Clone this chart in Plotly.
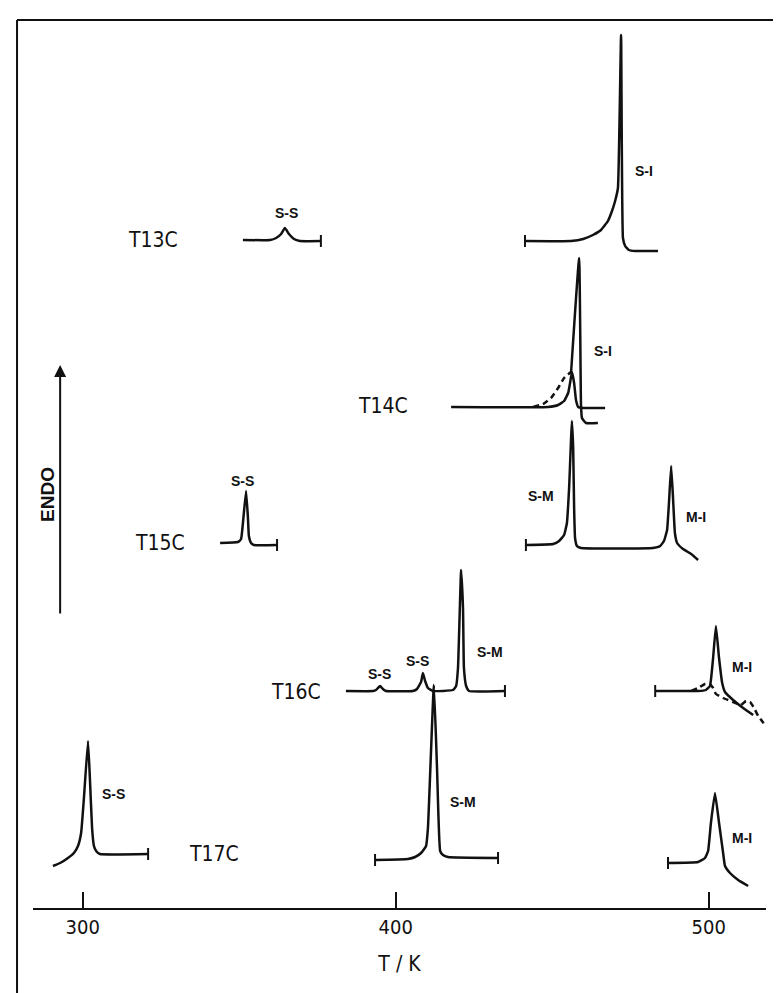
import plotly.graph_objects as go

# ---------------- data: temperature (K) and DSC signal (arb. units, offset per sample) -------------
# T13C
t13_ss_T = [351.2, 359.9, 361.8, 363.4, 364.6, 365.9, 367.5, 369.4, 376.1]
t13_ss_S = [668, 668, 670, 674, 680, 674, 669, 667, 667]
t13_si_T = [441.3, 456.0, 459.9, 463.0, 465.6, 467.8, 469.1, 470.1, 471.0, 472.0, 472.6, 473.3, 474.5, 476.5, 483.8]
t13_si_S = [667, 667, 669, 673, 678, 687, 697, 707, 720, 873, 670, 662, 658, 657, 657]
# T14C
t14_a_T = [417.7, 448.7, 451.9, 453.8, 455.1, 455.7, 456.3, 457.0, 457.6, 458.3, 459.9, 466.9]
t14_a_S = [501, 501, 503, 507, 515, 525, 536, 525, 508, 501, 500, 500]
t14_b_T = [456.0, 458.6, 459.2, 459.5, 460.8, 464.6]
t14_b_S = [534, 650, 503, 490, 485, 485]
t14_c_T = [443.9, 447.1, 449.6, 451.9, 453.8, 456.0]
t14_c_S = [501, 504, 510, 520, 530, 536]
# T15C
t15_ss_T = [343.9, 349.6, 350.6, 351.2, 352.2, 352.8, 353.1, 353.8, 354.7, 362.1]
t15_ss_S = [365, 366, 369, 385, 417, 390, 372, 365, 363, 363]
t15_sm_T = [441.6, 450.3, 452.2, 453.8, 454.7, 455.4, 456.3, 456.7, 457.0, 457.3, 457.9, 459.2,
            482.2, 484.5, 485.7, 486.7, 487.3, 488.0, 488.6, 489.2, 489.9, 491.8, 494.4, 496.6]
t15_sm_S = [363, 364, 367, 373, 385, 420, 487, 460, 400, 370, 362, 360,
            360, 362, 367, 378, 405, 442, 410, 375, 365, 359, 354, 348]
# T16C
t16_ss_T = [384.1, 392.8, 393.7, 395.0, 395.9, 396.9, 405.5, 406.8, 408.1, 408.7, 409.4, 410.3, 411.9,
            418.3, 419.3, 419.9, 420.9, 421.5, 421.8, 422.5, 423.4, 434.9]
t16_ss_S = [217, 217, 218, 222, 219, 217, 217, 219, 226, 235, 227, 220, 217,
            218, 222, 240, 338, 300, 240, 222, 217, 217]
t16_mi_T = [482.9, 496.6, 499.1, 500.4, 501.4, 502.3, 503.3, 504.3, 505.2, 507.8, 511.0, 514.2]
t16_mi_S = [217, 217, 218, 222, 250, 282, 250, 225, 216, 208, 200, 193]
t16_mi2_T = [494.4, 496.6, 498.8, 500.4, 501.4, 502.3, 504.6, 507.8, 510.3, 511.9, 513.2, 514.5, 515.8, 518.0]
t16_mi2_S = [217, 220, 224, 224, 220, 214, 210, 206, 203, 207, 206, 200, 192, 183]
# T17C
t17_ss_T = [290.5, 292.8, 295.3, 297.2, 298.5, 299.5, 300.4, 301.7, 302.3, 303.0, 303.6, 304.3, 305.5, 320.9]
t17_ss_S = [42, 45, 50, 55, 62, 75, 110, 167, 130, 80, 62, 57, 54, 54]
t17_sm_T = [393.4, 403.9, 406.2, 408.1, 409.7, 410.3, 412.2, 413.2, 414.2, 415.1, 416.7, 432.7]
t17_sm_S = [48, 49, 51, 55, 62, 80, 223, 140, 57, 53, 51, 50]
t17_mi_T = [487.0, 496.6, 498.8, 499.8, 500.7, 502.0, 503.3, 504.6, 505.2, 506.8, 509.4, 512.6]
t17_mi_S = [45, 46, 50, 57, 85, 115, 85, 55, 42, 35, 28, 22]

# sample names and label anchors
sample_names = ["T13C", "T14C", "T15C", "T16C", "T17C"]
sample_T = [322.5, 396.0, 324.7, 368.2, 342.0]
sample_S = [668, 502, 365, 216, 54]

# transition labels
trans_text = ["S-S", "S-I", "S-I", "S-S", "S-M", "M-I", "S-S", "S-S", "S-M", "M-I", "S-S", "S-M", "M-I"]
trans_T = [365.0, 479.3, 466.2, 351.2, 446.4, 496.0, 394.7, 407.1, 430.1, 510.7, 309.7, 421.5, 510.7]
trans_S = [695, 737, 557, 427, 412, 391, 234, 247, 256, 241, 114, 106, 70]

tick_vals = [300, 400, 500]

# ---------------- figure ----------------
fig = go.Figure()

INK = "#111111"

def add_curve(T, S, dash="solid"):
    fig.add_trace(go.Scatter(x=T, y=S, mode="lines",
                             line=dict(color=INK, width=2.5, dash=dash, shape="spline", smoothing=0.35),
                             hoverinfo="skip", showlegend=False))

curves = [
    (t13_ss_T, t13_ss_S, "solid"), (t13_si_T, t13_si_S, "solid"),
    (t14_a_T, t14_a_S, "solid"), (t14_b_T, t14_b_S, "solid"), (t14_c_T, t14_c_S, "6px,4px"),
    (t15_ss_T, t15_ss_S, "solid"), (t15_sm_T, t15_sm_S, "solid"),
    (t16_ss_T, t16_ss_S, "solid"), (t16_mi_T, t16_mi_S, "solid"), (t16_mi2_T, t16_mi2_S, "6px,4px"),
    (t17_ss_T, t17_ss_S, "solid"), (t17_sm_T, t17_sm_S, "solid"), (t17_mi_T, t17_mi_S, "solid"),
]
for T, S, d in curves:
    add_curve(T, S, d)

# small end marks on the recorder traces (derived from trace end points)
end_marks = [
    (t13_ss_T, t13_ss_S, -1), (t13_si_T, t13_si_S, 0),
    (t15_ss_T, t15_ss_S, -1), (t15_sm_T, t15_sm_S, 0),
    (t16_ss_T, t16_ss_S, -1), (t16_mi_T, t16_mi_S, 0),
    (t17_ss_T, t17_ss_S, -1), (t17_sm_T, t17_sm_S, 0), (t17_sm_T, t17_sm_S, -1),
    (t17_mi_T, t17_mi_S, 0),
]
mx, my = [], []
for T, S, i in end_marks:
    mx += [T[i], T[i], None]
    my += [S[i] - 6, S[i] + 6, None]
fig.add_trace(go.Scatter(x=mx, y=my, mode="lines", line=dict(color=INK, width=2),
                         hoverinfo="skip", showlegend=False))

LABEL_FONT = "Liberation Sans Narrow, DejaVu Sans Condensed, Liberation Sans, Arial, sans-serif"
BOLD_FONT = "Liberation Sans, Arial, sans-serif"

for name, x, y in zip(sample_names, sample_T, sample_S):
    fig.add_annotation(x=x, y=y, text=name, showarrow=False,
                       font=dict(family=LABEL_FONT, size=21, color=INK))
for name, x, y in zip(trans_text, trans_T, trans_S):
    fig.add_annotation(x=x, y=y, text="<b>" + name + "</b>", showarrow=False,
                       font=dict(family=BOLD_FONT, size=14, color=INK))

# ENDO arrow and label
fig.add_annotation(x=292.8, y=543, ax=292.8, ay=293, xref="x", yref="y", axref="x", ayref="y",
                   text="", showarrow=True, arrowhead=2, arrowsize=1.2, arrowwidth=2, arrowcolor=INK)
fig.add_annotation(x=288.6, y=414, text="<b>ENDO</b>", showarrow=False, textangle=-90,
                   font=dict(family=BOLD_FONT, size=19, color=INK))

# outer frame (left and top border of the original figure)
fig.add_shape(type="line", xref="paper", yref="paper", x0=-0.0218, x1=-0.0218, y0=0.9867, y1=-0.11,
              line=dict(color=INK, width=2))
fig.add_shape(type="line", xref="paper", yref="paper", x0=-0.0218, x1=1.04, y0=0.9867, y1=0.9867,
              line=dict(color=INK, width=2))

fig.update_layout(
    width=781, height=993,
    margin=dict(l=25, r=23, t=0, b=93),
    paper_bgcolor="white", plot_bgcolor="white",
    xaxis=dict(range=[284.13, 518.3], tickvals=tick_vals, ticktext=[str(v) for v in tick_vals],
               ticks="inside", ticklen=16, tickwidth=2, tickcolor=INK,
               showline=True, linecolor=INK, linewidth=2, showgrid=False, zeroline=False,
               tickfont=dict(family=LABEL_FONT, size=20, color=INK),
               title=dict(text="T / K", font=dict(family=LABEL_FONT, size=21, color=INK), standoff=18)),
    yaxis=dict(range=[0, 900], visible=False, showgrid=False, zeroline=False),
)

fig.write_html("out.html")
